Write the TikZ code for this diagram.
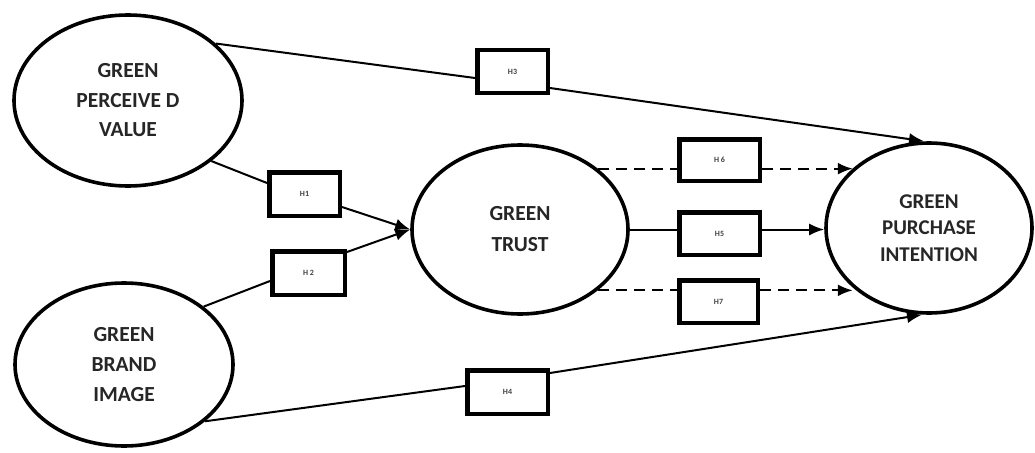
\documentclass[tikz,border=0pt]{standalone}
\usepackage{fontspec}
\setmainfont{Carlito}
\usetikzlibrary{arrows.meta,shapes.geometric,calc}
\begin{document}
\begin{tikzpicture}[x=1pt,y=-1pt,
  latent/.style={draw,ellipse,line width=3.6pt,inner sep=0pt,align=center,text=black!85},
  hyp/.style={draw,rectangle,line width=4.5pt,inner sep=0pt,font=\bfseries\fontsize{8}{9}\selectfont,text=black!75},
  link/.style={line width=2pt},
  arr/.style={link,-{Latex[length=15pt,width=12pt]}},
  dlink/.style={link,line width=2.3pt,dash pattern=on 11pt off 7pt},
  darr/.style={arr,line width=2.3pt,dash pattern=on 11pt off 7pt}]
\useasboundingbox (0,0) rectangle (1035,452);
% latent constructs
\node[latent,minimum width=228pt,minimum height=171pt,font=\bfseries\fontsize{21.5}{29.5}\selectfont] (gpv) at (128,100.5) {GREEN\\PERCEIVE D\\VALUE};
\node[latent,minimum width=218pt,minimum height=163pt,font=\bfseries\fontsize{21.5}{30}\selectfont] (gbi) at (124,364.5) {GREEN\\BRAND\\IMAGE};
\node[latent,minimum width=216pt,minimum height=169pt,font=\bfseries\fontsize{21.5}{31}\selectfont] (gt) at (520,229.5) {GREEN\\TRUST};
\node[latent,minimum width=206pt,minimum height=170pt,font=\bfseries\fontsize{21}{26.5}\selectfont] (gpi) at (929,228) {GREEN\\PURCHASE\\INTENTION};
% hypothesis boxes
\node[hyp,minimum width=70.5pt,minimum height=42.5pt] (h3) at (512.5,71.5) {H3};
\node[hyp,minimum width=70.5pt,minimum height=43.5pt] (h1) at (304.5,194) {H1};
\node[hyp,minimum width=72.5pt,minimum height=43.5pt] (h2) at (308.5,273) {H 2};
\node[hyp,minimum width=80.5pt,minimum height=43.5pt] (h4) at (507.5,392) {H4};
\node[hyp,minimum width=80.5pt,minimum height=41.5pt] (h6) at (719.5,160) {H 6};
\node[hyp,minimum width=80.5pt,minimum height=42.5pt] (h5) at (719.5,233.5) {H5};
\node[hyp,minimum width=78.5pt,minimum height=42.5pt] (h7) at (718.5,301.5) {H7};
% connectors
\draw[link] (gpv.-36) -- ($(h1.west)+(0,-11)$);
\draw[arr] ($(h1.east)+(0,13)$) -- (gt.west);
\draw[link] (gbi.36.5) -- ($(h2.west)+(0,8)$);
\draw[arr] ($(h2.east)+(0,-21)$) -- (gt.west);
\draw[link] (gpv.33) -- ($(h3.west)+(0,6.5)$);
\draw[arr] ($(h3.east)+(0,16.5)$) -- ($(gpi.north)+(-5,0)$);
\draw[link] (gbi.-35) -- ($(h4.west)+(0,-6)$);
\draw[arr] ($(h4.east)+(0,-19)$) -- ($(gpi.south)+(-7,0)$);
\draw[dlink] (gt.38) -- (gt.38 -| h6.west);
\draw[darr] (gt.38 -| h6.east) -- (gt.38 -| gpi.142);
\draw[link] (gt.east) -- (gt.east -| h5.west);
\draw[arr] (gt.east -| h5.east) -- (gt.east -| gpi.west);
\draw[dlink] (gt.-38) -- (gt.-38 -| h7.west);
\draw[darr] (gt.-38 -| h7.east) -- (gt.-38 -| gpi.-142);
\end{tikzpicture}
\end{document}
